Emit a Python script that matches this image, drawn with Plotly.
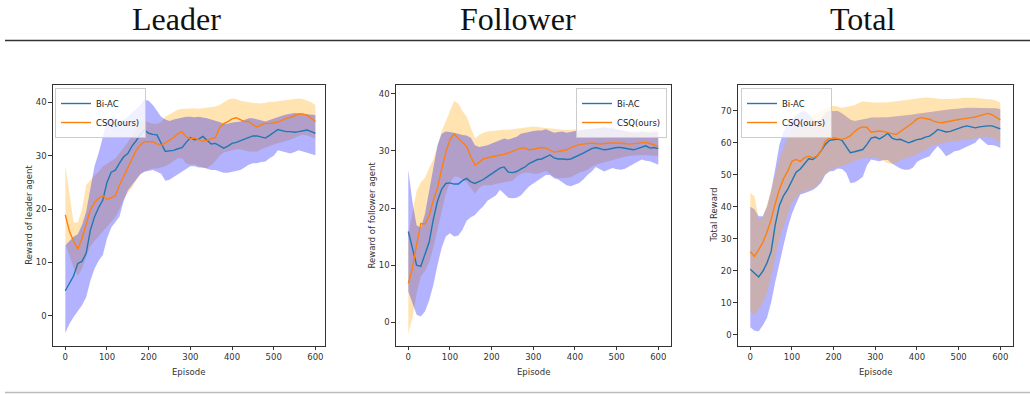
import plotly.graph_objects as go

# ---------------- data ----------------
EPISODES = list(range(0, 601, 10))

leader_biac_mean = [4.7, 6.0, 7.5, 9.8, 10.2, 11.7, 16.0, 18.5, 20.3, 21.7, 25.0, 26.9, 27.3, 28.6, 29.8, 30.4,
                    31.8, 32.8, 34.0, 34.8, 34.2, 34.0, 33.9, 32.3, 30.8, 30.9, 31.0, 31.3, 31.5, 32.5, 33.4, 33.0,
                    33.1, 33.6, 32.8, 32.2, 32.3, 31.8, 31.4, 31.8, 32.3, 32.5, 32.8, 33.2, 33.4, 33.7, 33.7, 33.5,
                    33.3, 33.8, 34.4, 34.9, 34.7, 34.5, 34.5, 34.4, 34.5, 34.7, 34.8, 34.5, 34.2]
leader_biac_low = [-3.2, -1.5, -0.2, 0.9, 2.0, 3.5, 6.5, 8.8, 10.3, 11.4, 14.5, 16.5, 17.5, 18.6, 21.5, 23.5,
                   24.5, 25.5, 26.5, 27.0, 27.2, 27.3, 27.0, 26.6, 25.3, 25.5, 26.0, 26.5, 27.0, 27.6, 28.0, 28.0,
                   27.8, 27.8, 27.6, 27.3, 27.3, 27.0, 26.8, 26.8, 27.0, 27.2, 27.3, 27.8, 28.3, 28.6, 28.6, 28.8,
                   28.9, 29.5, 30.0, 31.0, 30.8, 30.5, 30.4, 30.7, 31.0, 30.8, 30.5, 30.3, 30.1]
leader_biac_high = [13.2, 14.0, 14.8, 15.3, 17.0, 19.5, 24.0, 28.0, 30.5, 33.5, 36.5, 37.0, 37.0, 36.5, 36.8, 37.3,
                    38.0, 38.8, 39.5, 40.5, 40.3, 39.5, 38.5, 37.3, 36.8, 36.5, 36.8, 37.0, 37.2, 37.3, 37.3, 37.2,
                    37.3, 37.2, 37.0, 36.8, 36.6, 36.3, 36.0, 36.0, 36.2, 36.3, 36.4, 36.7, 37.0, 37.0, 36.8, 36.5,
                    36.4, 36.7, 37.0, 37.3, 37.5, 37.7, 37.9, 38.0, 37.9, 37.8, 37.7, 37.6, 37.6]
leader_csq_mean = [18.9, 15.8, 14.0, 12.5, 14.5, 17.2, 19.8, 21.2, 22.0, 22.5, 21.8, 22.1, 22.5, 24.5, 26.2, 27.6,
                   29.4, 31.0, 32.0, 32.6, 32.6, 32.6, 32.2, 31.9, 32.4, 32.9, 33.4, 34.1, 34.5, 33.5, 33.2, 33.3,
                   33.0, 32.7, 32.9, 33.1, 33.4, 35.2, 36.0, 36.4, 36.9, 37.1, 36.8, 36.4, 36.4, 35.8, 35.4, 35.8,
                   36.1, 36.0, 36.1, 36.3, 36.6, 37.0, 37.2, 37.5, 37.8, 37.8, 37.6, 37.0, 36.4]
leader_csq_low = [13.6, 11.5, 9.0, 7.5, 8.8, 11.0, 13.0, 14.0, 14.8, 15.8, 16.7, 17.5, 18.5, 20.0, 21.8, 23.0,
                  24.0, 25.3, 26.5, 27.1, 27.4, 27.6, 27.6, 27.8, 28.0, 28.5, 29.0, 29.5, 29.5, 28.5, 28.3, 28.4,
                  28.0, 27.7, 27.7, 28.2, 29.0, 30.0, 30.6, 30.8, 31.0, 31.2, 31.2, 31.0, 30.8, 30.8, 30.8, 31.2,
                  31.5, 31.8, 32.0, 32.4, 32.5, 32.7, 33.0, 33.3, 33.7, 33.9, 33.8, 33.5, 33.2]
leader_csq_high = [28.2, 23.0, 17.5, 17.5, 20.0, 24.5, 25.5, 26.3, 27.0, 28.0, 28.5, 29.0, 29.5, 30.5, 31.5, 32.5,
                   33.8, 35.0, 36.0, 36.5, 36.2, 36.0, 36.0, 36.3, 37.3, 37.8, 38.2, 38.6, 38.8, 38.8, 38.9, 38.9,
                   38.8, 38.9, 38.9, 39.0, 39.2, 39.5, 40.0, 40.5, 40.7, 40.6, 40.3, 40.1, 40.0, 39.9, 39.8, 39.8,
                   39.9, 40.1, 40.1, 40.2, 40.3, 40.4, 40.5, 40.6, 40.7, 40.6, 40.3, 40.0, 39.5]

follower_biac_mean = [15.9, 12.7, 10.0, 9.8, 12.0, 14.0, 18.0, 21.2, 23.3, 24.3, 24.4, 24.2, 24.2, 24.8, 25.2, 24.6,
                      24.3, 24.6, 25.0, 25.5, 26.0, 26.5, 27.0, 27.2, 26.3, 26.2, 26.4, 26.8, 27.2, 27.8, 28.2, 28.5,
                      28.6, 29.0, 29.3, 28.8, 28.6, 28.6, 28.5, 28.6, 28.9, 29.3, 29.6, 30.0, 30.4, 30.6, 30.4, 30.2,
                      30.3, 30.5, 30.6, 30.6, 30.5, 30.3, 30.2, 30.4, 30.7, 30.9, 30.5, 30.6, 30.4]
follower_biac_low = [5.4, 3.2, 1.3, 1.0, 1.9, 3.8, 6.5, 10.0, 13.0, 15.0, 15.6, 15.0, 15.2, 16.2, 17.8, 18.4,
                     18.8, 19.6, 20.3, 21.3, 21.8, 22.2, 23.2, 22.5, 21.8, 21.7, 21.8, 22.2, 23.0, 23.8, 24.3, 24.8,
                     25.3, 25.8, 25.8, 25.2, 25.0, 24.5, 24.0, 23.8, 24.1, 24.4, 25.0, 25.8, 26.4, 27.2, 26.8, 26.4,
                     26.7, 27.0, 26.8, 26.7, 26.9, 27.3, 27.6, 28.0, 28.5, 28.3, 28.2, 27.9, 27.6]
follower_biac_high = [26.7, 21.0, 17.0, 16.5, 19.0, 23.0, 27.5, 31.0, 33.0, 33.4, 33.3, 33.2, 33.0, 32.8, 32.7, 32.3,
                      31.0, 30.7, 30.8, 31.0, 31.3, 31.6, 32.0, 32.2, 32.0, 32.2, 32.5, 33.0, 33.2, 33.4, 33.5, 33.6,
                      33.6, 33.8, 33.5, 33.2, 33.3, 33.4, 33.2, 33.4, 33.5, 33.6, 33.7, 33.8, 34.0, 34.1, 34.2, 34.2,
                      34.0, 34.0, 33.8, 33.7, 33.5, 33.3, 33.3, 33.2, 33.4, 33.3, 33.2, 33.3, 33.3]
follower_csq_mean = [6.8, 9.5, 13.6, 17.3, 17.2, 18.7, 21.3, 23.5, 26.8, 29.8, 32.0, 33.0, 32.2, 31.5, 30.8, 29.0,
                     27.5, 28.0, 28.6, 28.8, 29.0, 29.1, 29.3, 29.4, 29.7, 30.0, 30.2, 30.5, 30.5, 30.2, 30.3, 30.5,
                     30.6, 30.5, 30.2, 29.8, 29.9, 30.0, 30.2, 30.6, 30.9, 31.1, 31.2, 31.3, 31.4, 31.3, 31.2, 31.3,
                     31.4, 31.4, 31.4, 31.4, 31.3, 31.2, 31.3, 31.4, 31.4, 31.5, 31.3, 31.1, 30.8]
follower_csq_low = [-2.0, 0.8, 5.0, 8.0, 9.0, 10.5, 13.0, 16.0, 19.5, 22.5, 24.5, 25.5, 25.5, 25.0, 24.5, 23.5,
                    22.5, 23.5, 24.0, 24.0, 24.0, 24.2, 24.4, 24.5, 24.6, 24.8, 25.5, 26.0, 26.2, 26.2, 26.0, 26.0,
                    26.2, 26.5, 26.0, 25.5, 25.2, 25.2, 25.3, 25.4, 25.8, 26.2, 26.4, 26.7, 27.2, 27.6, 27.8, 28.0,
                    28.2, 28.4, 28.7, 28.9, 29.0, 29.1, 29.2, 29.3, 29.3, 29.3, 29.2, 29.1, 29.1]
follower_csq_high = [15.5, 19.0, 23.0, 24.5, 25.3, 27.0, 28.5, 30.8, 33.5, 35.2, 37.0, 38.8, 38.3, 37.0, 36.0, 34.0,
                     32.2, 32.8, 33.2, 33.4, 33.5, 33.5, 33.6, 33.7, 33.7, 33.8, 33.9, 34.0, 34.2, 34.3, 34.3, 34.2,
                     34.1, 34.0, 33.9, 33.8, 33.7, 33.7, 33.7, 33.7, 33.7, 33.7, 33.7, 33.7, 33.8, 33.9, 34.0, 34.0,
                     33.9, 33.8, 33.7, 33.7, 33.6, 33.5, 33.5, 33.6, 33.6, 33.6, 33.6, 33.7, 33.7]

total_biac_mean = [20.4, 19.3, 18.0, 19.8, 22.4, 26.0, 34.5, 40.5, 43.5, 45.5, 48.0, 50.8, 51.8, 53.5, 55.0, 54.8,
                   55.8, 57.5, 59.5, 60.8, 61.1, 61.2, 60.8, 58.8, 56.9, 57.2, 57.6, 57.9, 59.5, 61.5, 61.8, 61.2,
                   62.0, 63.0, 61.5, 61.0, 61.1, 60.5, 60.0, 60.5, 61.0, 61.2, 61.8, 62.1, 63.0, 64.2, 63.8, 63.4,
                   63.6, 64.1, 64.5, 65.0, 65.3, 65.0, 64.7, 65.0, 65.2, 65.3, 65.3, 64.9, 64.4]
total_biac_low = [2.3, 1.2, 1.0, 2.8, 5.2, 10.0, 16.5, 22.8, 28.0, 33.5, 37.8, 41.0, 43.8, 44.2, 44.6, 45.2,
                  46.2, 47.5, 50.0, 51.0, 51.2, 52.0, 51.8, 50.6, 47.4, 47.6, 48.4, 49.4, 53.0, 54.8, 54.5, 54.2,
                  54.6, 54.6, 53.5, 52.7, 52.0, 51.6, 51.6, 52.2, 54.0, 54.8, 55.3, 55.8, 57.5, 59.0, 57.5, 55.8,
                  56.5, 57.4, 57.6, 58.2, 59.0, 59.4, 60.0, 61.5, 60.5, 59.3, 59.3, 59.0, 58.4]
total_biac_high = [40.0, 39.2, 37.0, 37.0, 40.0, 45.0, 52.0, 59.5, 63.5, 66.0, 67.5, 68.6, 69.5, 70.0, 69.0, 67.5,
                   66.5, 67.5, 69.5, 70.0, 70.0, 70.0, 69.3, 68.4, 67.3, 66.8, 67.0, 67.4, 67.6, 67.9, 67.9, 67.9,
                   67.9, 68.0, 68.2, 68.3, 68.4, 68.6, 68.8, 68.9, 69.1, 69.3, 69.5, 69.7, 69.8, 70.0, 70.1, 70.3,
                   70.5, 70.6, 70.8, 70.9, 71.0, 71.0, 71.0, 71.0, 71.0, 71.0, 71.0, 70.8, 70.5]
total_csq_mean = [25.9, 24.5, 26.5, 28.8, 32.0, 36.0, 41.0, 45.5, 48.8, 51.2, 54.2, 54.8, 54.2, 55.3, 55.8, 55.3,
                  55.8, 57.5, 60.5, 61.4, 61.6, 61.3, 61.1, 61.5, 62.2, 63.5, 64.5, 65.0, 64.8, 63.3, 63.4, 63.7,
                  63.5, 63.3, 62.9, 62.6, 63.5, 64.6, 65.5, 66.3, 67.5, 67.9, 67.6, 67.4, 66.8, 66.4, 66.3, 66.6,
                  66.8, 67.1, 67.3, 67.5, 67.8, 67.9, 68.1, 68.4, 68.9, 69.2, 68.8, 68.1, 67.2]
total_csq_low = [7.6, 6.2, 7.8, 10.0, 13.0, 18.0, 24.0, 30.0, 34.0, 37.5, 41.3, 43.0, 44.3, 44.8, 45.2, 45.8,
                 46.5, 48.3, 50.2, 51.5, 52.0, 52.4, 52.8, 53.2, 53.8, 54.5, 54.9, 55.2, 55.3, 55.3, 55.3, 55.0,
                 54.4, 53.6, 53.4, 53.8, 54.6, 55.2, 55.6, 55.8, 56.5, 57.2, 57.8, 58.6, 59.2, 59.5, 59.8, 60.2,
                 60.4, 60.5, 60.6, 60.8, 61.0, 61.2, 61.4, 61.6, 61.8, 62.0, 61.6, 60.8, 60.0]
total_csq_high = [44.3, 43.3, 36.0, 36.8, 40.5, 45.5, 50.0, 55.0, 58.5, 61.5, 63.5, 65.0, 66.3, 67.3, 68.0, 68.5,
                  69.2, 70.0, 70.8, 71.3, 71.6, 71.4, 71.0, 71.2, 71.5, 71.8, 72.5, 73.0, 72.8, 72.6, 72.6, 72.6,
                  72.6, 72.7, 72.9, 73.0, 73.1, 73.3, 73.5, 73.7, 73.9, 74.1, 74.2, 74.1, 73.9, 73.7, 73.7, 73.7,
                  73.7, 73.8, 73.9, 74.1, 74.2, 74.1, 74.0, 73.9, 73.8, 73.7, 73.6, 73.2, 72.6]

SERIES_NAMES = ["Bi-AC", "CSQ(ours)"]
PANEL_TITLES = ["Leader", "Follower", "Total"]
Y_LABELS = ["Reward of leader agent", "Reward of follower agent", "Total Reward"]
X_LABEL = "Episode"
X_TICKS = [0, 100, 200, 300, 400, 500, 600]
Y_TICKS = [[0, 10, 20, 30, 40], [0, 10, 20, 30, 40], [0, 10, 20, 30, 40, 50, 60, 70]]

for arr in [leader_biac_mean, leader_biac_low, leader_biac_high, leader_csq_mean, leader_csq_low, leader_csq_high,
            follower_biac_mean, follower_biac_low, follower_biac_high, follower_csq_mean, follower_csq_low,
            follower_csq_high, total_biac_mean, total_biac_low, total_biac_high, total_csq_mean, total_csq_low,
            total_csq_high]:
    if len(arr) != len(EPISODES):
        raise SystemExit("length mismatch %d" % len(arr))

# ---------------- style ----------------
W, H = 1030, 394
LINE_BLUE = "#1f77b4"
LINE_ORANGE = "#ff7f0e"
BAND_BLUE = "rgba(0,0,255,0.3)"
BAND_ORANGE = "rgba(255,165,0,0.3)"
AX_COLOR = "#333333"
TICK_FONT = dict(family="DejaVu Sans", size=8.5, color="#333333")


def fx(p):
    return p / W


def fy(p):
    return 1 - p / H


Y_TOP, Y_BOT = 84.7, 345.7
panels = [
    dict(biac=(leader_biac_mean, leader_biac_low, leader_biac_high),
         csq=(leader_csq_mean, leader_csq_low, leader_csq_high),
         xdom=(52.8, 325.0), yrange=[-5.6, 43.3], xrange=[-30, 623], band_order=("csq", "biac"),
         legend=dict(x=fx(55), y=fy(88), xanchor="left", yanchor="top"), ylab_x=29.5),
    dict(biac=(follower_biac_mean, follower_biac_low, follower_biac_high),
         csq=(follower_csq_mean, follower_csq_low, follower_csq_high),
         xdom=(395.8, 670.8), yrange=[-4.1, 41.6], xrange=[-30, 630], band_order=("csq", "biac"),
         legend=dict(x=fx(667), y=fy(88), xanchor="right", yanchor="top"), ylab_x=372.3),
    dict(biac=(total_biac_mean, total_biac_low, total_biac_high),
         csq=(total_csq_mean, total_csq_low, total_csq_high),
         xdom=(737.8, 1012.8), yrange=[-3.5, 78.2], xrange=[-30, 630], band_order=("biac", "csq"),
         legend=dict(x=fx(741), y=fy(88), xanchor="left", yanchor="top"), ylab_x=714.3),
]

fig = go.Figure()
layout = dict(width=W, height=H, margin=dict(l=0, r=0, t=0, b=0),
              paper_bgcolor="white", plot_bgcolor="white", annotations=[], shapes=[])

band_colors = {"biac": BAND_BLUE, "csq": BAND_ORANGE}
line_colors = {"biac": LINE_BLUE, "csq": LINE_ORANGE}
names = {"biac": SERIES_NAMES[0], "csq": SERIES_NAMES[1]}

for i, p in enumerate(panels):
    k = "" if i == 0 else str(i + 1)
    xa, ya = "x" + k, "y" + k
    leg = "legend" + k
    for key in p["band_order"]:
        mean, low, high = p[key]
        fig.add_trace(go.Scatter(x=EPISODES, y=low, xaxis=xa, yaxis=ya, mode="lines",
                                 line=dict(width=0, color=band_colors[key]), showlegend=False,
                                 hoverinfo="skip", legend=leg))
        fig.add_trace(go.Scatter(x=EPISODES, y=high, xaxis=xa, yaxis=ya, mode="lines", fill="tonexty",
                                 fillcolor=band_colors[key], line=dict(width=0, color=band_colors[key]),
                                 showlegend=False, hoverinfo="skip", legend=leg))
    for key in ("biac", "csq"):
        mean = p[key][0]
        fig.add_trace(go.Scatter(x=EPISODES, y=mean, xaxis=xa, yaxis=ya, mode="lines", name=names[key],
                                 line=dict(width=1.4, color=line_colors[key]), legend=leg))

    common = dict(showline=True, mirror=True, linecolor=AX_COLOR, linewidth=1, showgrid=False,
                  zeroline=False, ticks="outside", ticklen=3.5, tickwidth=0.8, tickcolor=AX_COLOR,
                  tickfont=TICK_FONT)
    layout["xaxis" + k] = dict(domain=[fx(p["xdom"][0]), fx(p["xdom"][1])], range=p["xrange"],
                               tickvals=X_TICKS, anchor=ya, **common)
    layout["yaxis" + k] = dict(domain=[fy(Y_BOT), fy(Y_TOP)], range=p["yrange"],
                               tickvals=Y_TICKS[i], anchor=xa, **common)
    layout[leg] = dict(bgcolor="rgba(255,255,255,0.8)", bordercolor="#cccccc", borderwidth=1,
                       font=dict(family="DejaVu Sans", size=8.5, color="#222222"),
                       itemwidth=30, tracegroupgap=0, traceorder="normal", **p["legend"])

    xc = (p["xdom"][0] + p["xdom"][1]) / 2
    layout["annotations"].append(dict(text=PANEL_TITLES[i], x=fx(xc), y=fy(19), xref="paper", yref="paper",
                                      showarrow=False, xanchor="center", yanchor="middle",
                                      font=dict(family="Liberation Serif", size=32, color="#111111")))
    layout["annotations"].append(dict(text=X_LABEL, x=fx(xc), y=fy(372), xref="paper", yref="paper",
                                      showarrow=False, xanchor="center", yanchor="middle",
                                      font=dict(family="DejaVu Sans", size=8.5, color="#333333")))
    layout["annotations"].append(dict(text=Y_LABELS[i], x=fx(p["ylab_x"]), y=fy((Y_TOP + Y_BOT) / 2),
                                      xref="paper", yref="paper", showarrow=False, textangle=-90,
                                      xanchor="center", yanchor="middle",
                                      font=dict(family="DejaVu Sans", size=8.5, color="#333333")))

# title positions differ slightly from the axes centres
layout["annotations"][0]["x"] = fx(176)
layout["annotations"][3]["x"] = fx(518)
layout["annotations"][6]["x"] = fx(862)

layout["shapes"].append(dict(type="line", xref="paper", yref="paper", x0=fx(5), x1=1, y0=fy(40.5), y1=fy(40.5),
                             line=dict(color="#333333", width=1.5)))
layout["shapes"].append(dict(type="line", xref="paper", yref="paper", x0=fx(5), x1=1, y0=fy(392.5),
                             y1=fy(392.5), line=dict(color="#bbbbbb", width=1.5)))

fig.update_layout(**layout)
fig.write_html("out.html", config={"displayModeBar": False},
               post_script="document.body.style.margin='0';document.body.style.padding='0';")
